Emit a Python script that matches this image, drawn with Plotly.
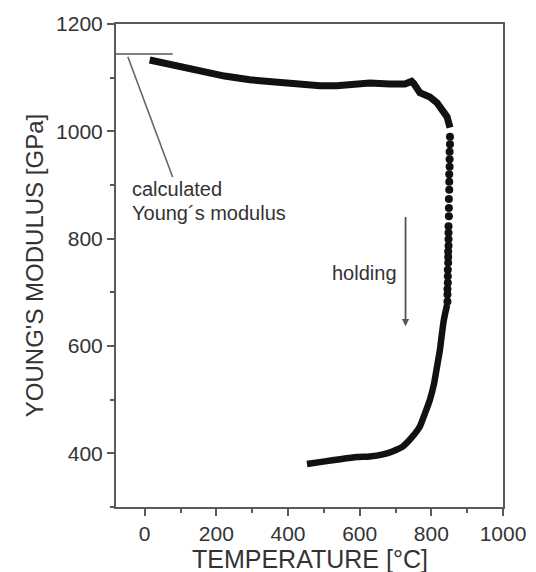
import plotly.graph_objects as go

# Heating run: continuous dense measurement (temperature in °C, modulus in GPa)
heat_T = [14, 42, 98, 154, 223, 293, 377, 441, 489, 536, 587, 628, 684, 726, 745, 750,
          768, 796, 816, 832, 844, 852]
heat_E = [1133, 1129, 1122, 1111, 1103, 1096, 1090, 1086, 1085, 1085, 1088, 1090, 1088,
          1088, 1093, 1090, 1072, 1064, 1053, 1040, 1027, 1007]

# Isothermal holding: individual points
hold_T = [852, 852, 851, 851, 851, 850, 850, 850, 849, 849, 849, 848, 848, 848, 848,
          847, 847, 847, 846, 846, 846, 845, 845, 845]
hold_E = [990, 976, 962, 948, 934, 920, 906, 891, 874, 857, 842, 823, 811, 799, 787,
          776, 766, 755, 742, 730, 718, 706, 696, 683]

# Cooling run
cool_T = [844, 835, 830, 824, 816, 807, 796, 782, 768, 746, 721, 693, 665, 628, 592,
          545, 503, 453]
cool_E = [677, 649, 625, 593, 562, 528, 500, 474, 450, 430, 413, 404, 398, 394, 393,
          389, 385, 380]

# Calculated Young's modulus reference level and its pointer
calc_E = 1144
calc_T = [-80, 78]
pointer_T = [-47, 78]
pointer_E = [1139, 915]

# "holding" arrow
hold_arrow_T = 728
hold_arrow_E = [843, 637]

x_ticks = [0, 200, 400, 600, 800, 1000]
y_ticks = [400, 600, 800, 1000, 1200]

INK = "#111111"
AXIS = "#5a5a5a"
TEXT = "#333333"
FONT = "Liberation Sans, Arial, sans-serif"

fig = go.Figure()

fig.add_trace(go.Scatter(x=calc_T, y=[calc_E, calc_E], mode="lines",
                         line=dict(color="#555555", width=1.6), hoverinfo="skip"))
fig.add_trace(go.Scatter(x=pointer_T, y=pointer_E, mode="lines",
                         line=dict(color="#666666", width=1.6), hoverinfo="skip"))

fig.add_trace(go.Scatter(x=heat_T, y=heat_E, mode="lines",
                         line=dict(color=INK, width=7)))
fig.add_trace(go.Scatter(x=hold_T, y=hold_E, mode="markers",
                         marker=dict(color=INK, size=8)))
fig.add_trace(go.Scatter(x=cool_T, y=cool_E, mode="lines",
                         line=dict(color=INK, width=6.5, shape="spline", smoothing=0.5)))

fig.add_annotation(x=hold_arrow_T, y=hold_arrow_E[1], ax=hold_arrow_T, ay=hold_arrow_E[0],
                   xref="x", yref="y", axref="x", ayref="y", text="", showarrow=True,
                   arrowhead=2, arrowsize=0.8, arrowwidth=1.8, arrowcolor="#555555")
fig.add_annotation(x=614, y=736, xref="x", yref="y", text="holding", showarrow=False,
                   font=dict(size=20, color=TEXT, family=FONT))
fig.add_annotation(x=-42, y=893, xref="x", yref="y", text="calculated", showarrow=False,
                   xanchor="left", font=dict(size=20, color=TEXT, family=FONT))
fig.add_annotation(x=-42, y=848, xref="x", yref="y", text="Young´s modulus", showarrow=False,
                   xanchor="left", font=dict(size=20, color=TEXT, family=FONT))

# x-axis title, set just below the tick labels
fig.add_annotation(x=0.5, y=-0.108, xref="paper", yref="paper", yanchor="middle",
                   text="TEMPERATURE [°C]", showarrow=False,
                   font=dict(size=25, color=TEXT, family=FONT))

axis_common = dict(showgrid=False, zeroline=False, showline=True, linecolor=AXIS,
                   linewidth=2, mirror=True, ticks="outside", tickcolor=AXIS,
                   tickwidth=1.5, ticklen=7, automargin=False,
                   tickfont=dict(size=21, color=TEXT, family=FONT))

fig.update_xaxes(range=[-80, 1000], tickvals=x_ticks,
                 minor=dict(dtick=100, tick0=0, ticks="outside", ticklen=4,
                            tickcolor=AXIS, tickwidth=1.5),
                 **axis_common)
fig.update_yaxes(range=[300, 1200], tickvals=y_ticks,
                 minor=dict(dtick=100, tick0=0, ticks="outside", ticklen=4,
                            tickcolor=AXIS, tickwidth=1.5),
                 title=dict(text="YOUNG'S MODULUS [GPa]", standoff=6,
                            font=dict(size=24, color=TEXT, family=FONT)),
                 **axis_common)

fig.update_layout(width=536, height=572, showlegend=False,
                  paper_bgcolor="white", plot_bgcolor="white",
                  margin=dict(l=116, r=33, t=24, b=65))

fig.write_html("out.html")
